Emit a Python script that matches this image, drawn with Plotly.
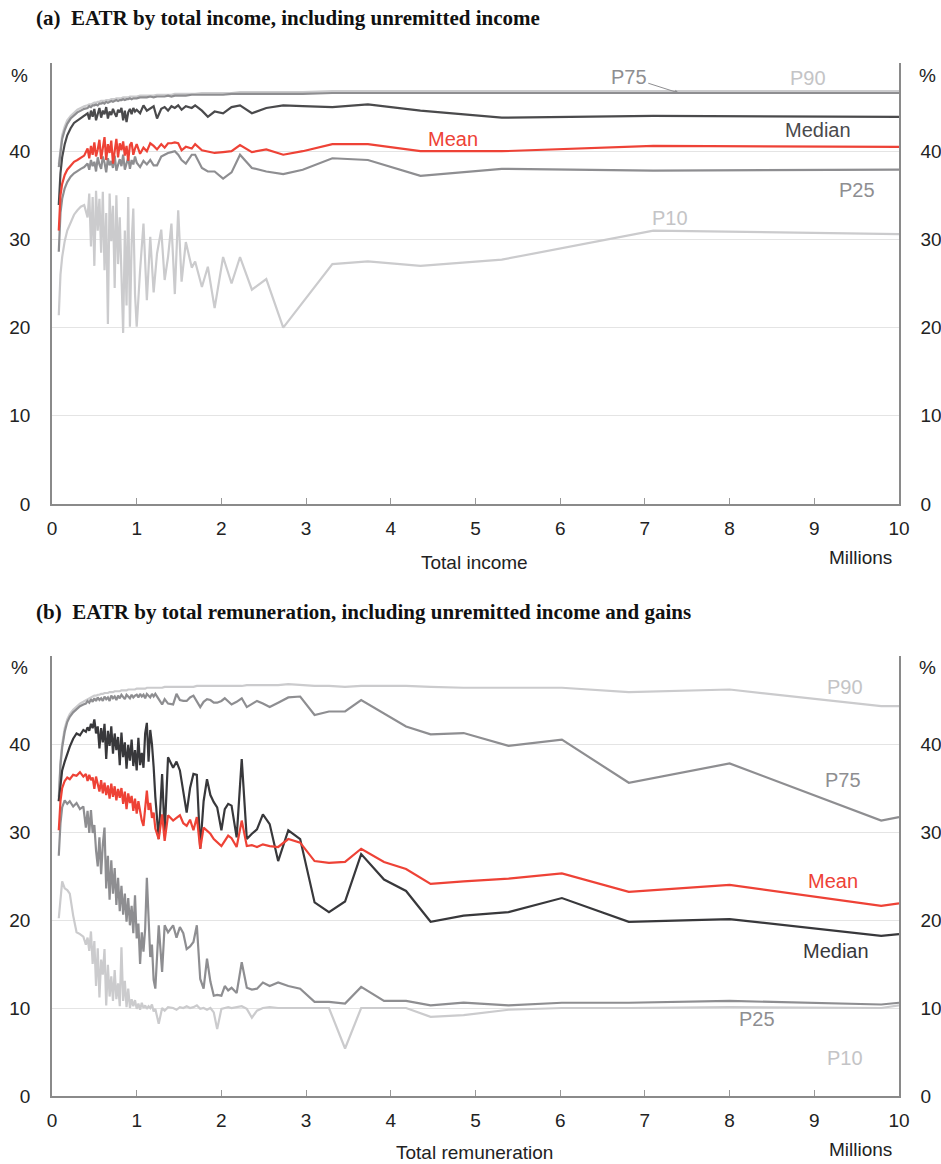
import plotly.graph_objects as go

# ---------------- Panel (a): EATR by total income ----------------
xa = [0.08, 0.10, 0.12, 0.15, 0.18, 0.22, 0.26, 0.30, 0.34, 0.38,
      0.42, 0.44, 0.46, 0.48, 0.50, 0.52, 0.54, 0.56, 0.58, 0.60,
      0.62, 0.64, 0.66, 0.68, 0.70, 0.72, 0.74, 0.76, 0.78, 0.80,
      0.82, 0.84, 0.86, 0.88, 0.90, 0.92, 0.94, 0.96, 0.98, 1.00,
      1.04, 1.08, 1.12, 1.16, 1.20, 1.24, 1.29, 1.33, 1.37, 1.41, 1.45,
      1.49, 1.53, 1.58, 1.65, 1.69, 1.77, 1.84, 1.92, 2.02, 2.12, 2.22,
      2.36, 2.53, 2.73, 2.96, 3.31, 3.73, 4.35, 5.31, 7.10, 10.0]

p90_a = [38.5, 40.5, 41.8, 42.8, 43.5, 44.0, 44.4, 44.7, 44.9, 45.1,
         45.2, 45.3, 45.3, 45.4, 45.5, 45.5, 45.6, 45.6, 45.7, 45.7,
         45.7, 45.8, 45.8, 45.8, 45.9, 45.9, 45.9, 46.0, 46.0, 46.0,
         46.0, 46.1, 46.1, 46.1, 46.1, 46.2, 46.2, 46.2, 46.2, 46.2,
         46.3, 46.3, 46.3, 46.3, 46.3, 46.4, 46.4, 46.4, 46.4, 46.4, 46.5,
         46.5, 46.5, 46.5, 46.5, 46.5, 46.6, 46.6, 46.6, 46.6, 46.6, 46.7,
         46.7, 46.7, 46.7, 46.7, 46.8, 46.8, 46.8, 46.8, 46.8, 46.8]

p75_a = [38.2, 40.1, 41.4, 42.4, 43.1, 43.7, 44.1, 44.4, 44.6, 44.8,
         44.9, 45.1, 45.0, 45.2, 45.2, 45.3, 45.2, 45.4, 45.4, 45.5,
         45.4, 45.6, 45.5, 45.6, 45.7, 45.6, 45.7, 45.8, 45.7, 45.8,
         45.8, 45.9, 45.8, 45.9, 45.9, 46.0, 45.9, 46.0, 46.0, 46.0,
         46.1, 46.1, 46.1, 46.2, 46.1, 46.2, 46.2, 46.2, 46.3, 46.2, 46.3,
         46.3, 46.3, 46.3, 46.4, 46.4, 46.4, 46.4, 46.4, 46.4, 46.5, 46.5,
         46.5, 46.5, 46.5, 46.5, 46.6, 46.6, 46.6, 46.6, 46.6, 46.6]

median_a = [33.9, 37.5, 39.3, 40.8, 41.8, 42.6, 43.2, 43.5, 43.8, 44.0,
            44.3, 43.6, 44.6, 43.9, 44.8, 43.5, 44.4, 44.9, 43.8, 44.6,
            44.2, 45.0, 43.7, 44.5, 44.1, 44.8, 44.3, 43.9, 44.7, 44.4,
            44.9, 43.5, 44.6, 43.3, 44.4, 44.8, 44.2, 44.9, 44.5, 44.7,
            44.3, 45.2, 44.6, 44.9, 45.1, 43.7, 44.8, 45.0, 44.6, 45.1, 44.9,
            45.2, 44.7, 45.1, 44.9, 45.2, 44.6, 43.9, 44.5, 44.3, 45.0, 45.2,
            44.3, 44.9, 45.2, 45.1, 45.0, 45.3, 44.6, 43.8, 44.0, 43.9]

mean_a = [31.0, 35.0, 36.3, 37.3, 37.9, 38.4, 38.8, 39.0, 39.3, 39.5,
          40.3, 39.2, 40.6, 39.6, 41.0, 39.4, 40.2, 41.3, 39.1, 40.5,
          41.6, 39.0, 40.8, 39.8, 41.2, 38.6, 40.4, 41.4, 39.3, 40.9,
          40.1, 41.1, 39.5, 40.6, 38.9, 40.7, 41.0, 39.6, 40.3, 40.8,
          39.7, 40.4, 40.0, 40.9, 40.6, 40.2, 40.8, 40.4, 40.9, 40.9, 41.0,
          40.9, 40.1, 40.5, 40.3, 40.8, 40.1, 40.0, 39.8, 39.9, 40.0, 40.7,
          39.9, 40.2, 39.6, 40.0, 40.8, 40.8, 40.0, 40.0, 40.6, 40.5]

p25_a = [28.6, 33.0, 34.6, 35.8, 36.5, 37.1, 37.5, 37.8, 38.0, 38.2,
         38.6, 37.9, 39.0, 38.3, 38.8, 37.7, 39.3, 38.5, 38.0, 39.4,
         38.7, 37.6, 39.2, 38.4, 38.9, 38.1, 39.5, 37.8, 38.6, 39.1,
         38.3, 39.6, 37.9, 38.8, 39.3, 38.0, 39.0, 38.5, 39.4, 38.7,
         38.2, 38.9, 38.5, 39.0, 38.4, 38.4, 39.4, 39.6, 39.8, 39.9, 40.0,
         39.6, 39.0, 38.6, 39.6, 39.6, 38.1, 37.7, 37.7, 36.9, 37.6, 39.6,
         38.1, 37.7, 37.4, 37.9, 39.2, 39.0, 37.2, 38.0, 37.8, 37.9]

p10_a = [21.4, 26.0, 28.0, 29.8, 31.0, 32.0, 32.8, 33.3, 33.7, 33.9,
         32.5, 35.2, 29.2, 34.8, 27.0, 35.5, 31.0, 34.6, 28.5, 35.4,
         26.5, 33.0, 20.4, 35.2, 29.8, 33.8, 24.5, 35.0, 27.2, 32.5,
         25.0, 19.4, 31.0, 22.5, 34.8, 20.1, 29.5, 33.5, 23.8, 20.1,
         26.5, 31.8, 23.1, 30.3, 24.0, 28.4, 31.1, 25.4, 28.0, 31.8, 23.8,
         33.3, 25.2, 29.7, 26.8, 27.5, 24.6, 26.9, 22.2, 28.0, 25.0, 28.0,
         24.3, 25.5, 20.0, 22.9, 27.2, 27.5, 27.0, 27.7, 31.0, 30.6]

# ---------------- Panel (b): EATR by total remuneration ----------------
xb = [0.08, 0.10, 0.12, 0.15, 0.18, 0.21, 0.25, 0.29, 0.33, 0.37,
      0.40, 0.42, 0.44, 0.46, 0.48, 0.50, 0.52, 0.54, 0.56, 0.58,
      0.60, 0.62, 0.64, 0.66, 0.68, 0.70, 0.72, 0.74, 0.76, 0.78,
      0.80, 0.82, 0.84, 0.86, 0.88, 0.90, 0.92, 0.94, 0.96, 0.98,
      1.00, 1.02, 1.04, 1.06, 1.08, 1.10, 1.12, 1.14, 1.16, 1.18, 1.20, 1.22,
      1.26, 1.30, 1.33, 1.37, 1.43, 1.47, 1.51, 1.55, 1.59, 1.63, 1.67, 1.71,
      1.75, 1.79, 1.83, 1.87, 1.91, 1.95, 2.00, 2.04, 2.08, 2.12, 2.18, 2.24,
      2.30, 2.36, 2.42, 2.49, 2.57, 2.67, 2.79, 2.93,
      3.10, 3.27, 3.46, 3.65, 3.92, 4.18, 4.47, 4.86, 5.39, 6.02, 6.81, 8.00, 9.79, 10.0]

p90_b = [34.0, 38.0, 40.0, 41.8, 42.8, 43.4, 43.9, 44.3, 44.6, 44.8,
         45.0, 45.1, 45.2, 45.3, 45.4, 45.5, 45.5, 45.6, 45.6, 45.7,
         45.7, 45.8, 45.8, 45.8, 45.9, 45.9, 45.9, 46.0, 46.0, 46.0,
         46.0, 46.1, 46.1, 46.1, 46.1, 46.2, 46.2, 46.2, 46.2, 46.2,
         46.3, 46.3, 46.3, 46.3, 46.3, 46.3, 46.4, 46.4, 46.4, 46.4, 46.4, 46.4,
         46.4, 46.4, 46.5, 46.5, 46.5, 46.5, 46.5, 46.5, 46.5, 46.5, 46.5, 46.6,
         46.6, 46.6, 46.6, 46.6, 46.6, 46.6, 46.6, 46.6, 46.6, 46.6, 46.6, 46.6,
         46.7, 46.7, 46.7, 46.7, 46.7, 46.7, 46.8, 46.7,
         46.6, 46.6, 46.5, 46.6, 46.6, 46.6, 46.5, 46.4, 46.4, 46.4, 45.9, 46.2, 44.3, 44.3]

p75_b = [33.5, 37.6, 39.6, 41.4, 42.5, 43.1, 43.6, 44.0, 44.3, 44.5,
         44.6, 44.9, 44.7, 45.1, 44.8, 45.2, 44.9, 45.3, 45.0, 45.2,
         44.9, 45.4, 45.1, 45.3, 44.9, 45.5, 45.2, 45.4, 45.0, 45.5,
         45.2, 45.6, 45.3, 45.1, 45.6, 45.4, 45.2, 45.6, 45.3, 45.5,
         45.6, 45.3, 45.7, 45.4, 45.6, 45.2, 45.7, 45.5, 45.3, 45.7, 45.4, 45.7,
         45.1, 44.5, 45.1, 44.6, 44.5, 45.7, 45.0, 44.9, 44.9, 45.3, 45.5, 44.8,
         44.2, 44.8, 45.1, 45.0, 44.7, 44.7, 44.9, 45.2, 44.9, 44.5, 44.8, 45.2,
         44.2, 44.6, 44.9, 44.6, 44.2, 44.7, 45.3, 45.4,
         43.3, 43.7, 43.7, 45.0, 43.5, 42.0, 41.1, 41.25, 39.8, 40.5, 35.6, 37.8, 31.3, 31.7]

median_b = [33.5, 35.5, 37.0, 38.0, 39.0, 39.7, 40.6, 41.2, 41.0, 41.6,
            41.4, 41.9, 41.5, 42.3, 41.8, 42.8, 41.2, 42.0, 39.5, 41.8,
            40.2, 42.3, 38.3, 41.5, 39.8, 42.0, 38.9, 41.2, 39.3, 40.8,
            37.6, 41.3, 38.5, 40.2, 37.2, 39.9, 38.1, 40.5, 37.5, 39.3,
            37.0, 40.7, 37.6, 39.0, 37.3, 41.2, 42.4, 38.0, 41.6, 40.0, 37.4, 34.0,
            29.2, 36.6, 29.8, 38.5, 37.3, 38.0, 37.0, 34.5, 32.2, 35.0, 36.6, 36.5,
            28.1, 33.5, 36.0, 34.2, 33.4, 32.8, 30.2, 32.6, 33.2, 33.0, 29.4, 38.3,
            29.2, 29.8, 30.3, 32.0, 30.9, 26.7, 30.2, 29.2,
            22.0, 20.9, 22.1, 27.5, 24.6, 23.3, 19.8, 20.5, 20.9, 22.5, 19.8, 20.1, 18.2, 18.4]

mean_b = [30.2, 33.5, 35.0, 35.8, 36.2, 36.0, 36.5, 36.4, 36.8, 36.3,
          36.6, 35.8, 36.5, 35.9, 36.2, 34.9, 36.3, 35.5, 34.6, 35.9,
          34.4, 35.6, 34.2, 35.3, 33.8, 35.5, 34.0, 35.2, 33.6, 34.9,
          33.9, 35.0, 33.2, 34.6, 32.6, 34.4, 33.3, 34.1, 32.4, 33.8,
          32.1, 33.5, 32.2, 31.3, 30.7, 33.0, 34.7, 32.5, 33.3, 31.6, 32.2, 30.4,
          29.2, 32.0, 29.0, 31.9, 31.3, 31.6, 31.9, 31.0, 30.7, 31.4, 30.2, 31.7,
          28.1, 30.5, 30.2, 29.8, 29.2, 28.8, 28.4, 29.0, 29.6, 29.3, 28.3, 31.3,
          28.4, 28.5, 28.3, 28.6, 28.4, 28.3, 29.2, 28.8,
          26.7, 26.5, 26.6, 28.1, 26.6, 25.8, 24.1, 24.4, 24.7, 25.3, 23.2, 24.0, 21.6, 21.9]

p25_b = [27.3, 31.0, 32.8, 33.6, 33.2, 33.5, 32.9, 33.3, 32.6, 32.9,
         30.5, 32.4, 29.9, 32.5, 29.9, 30.8, 27.9, 26.1, 29.4, 25.2,
         28.6, 30.5, 23.6, 27.3, 22.3, 26.8, 23.0, 25.9, 21.7, 24.8,
         21.0, 23.9, 20.6, 23.0, 19.8, 22.5, 19.4, 21.6, 18.5, 22.8,
         17.9, 19.6, 15.0, 18.6, 16.4, 19.0, 24.8, 19.6, 15.8, 17.2, 13.2, 12.2,
         19.4, 14.1, 19.4, 18.6, 19.4, 18.0, 19.2, 18.5, 16.7, 17.0, 17.5, 19.4,
         13.3, 12.2, 15.6, 13.0, 11.4, 11.5, 11.4, 12.5, 12.0, 12.3, 11.7, 15.2,
         12.3, 12.1, 12.2, 12.9, 12.5, 12.9, 12.5, 12.2,
         10.7, 10.7, 10.5, 12.4, 10.8, 10.8, 10.3, 10.6, 10.3, 10.6, 10.6, 10.8, 10.4, 10.6]

p10_b = [20.2, 22.5, 24.4, 23.6, 23.4, 23.0, 20.5, 18.6, 18.4, 18.1,
         17.2, 18.0, 16.5, 18.7, 15.0, 17.6, 12.5, 16.8, 11.2, 15.5,
         13.8, 16.7, 10.3, 14.9, 11.3, 13.6, 10.8, 14.3, 11.0, 12.8,
         10.2, 16.9, 10.8, 13.1, 10.1, 12.2, 10.0, 11.0, 10.2, 10.9,
         9.9, 10.5, 9.8, 10.6, 10.0, 10.3, 9.9, 10.2, 10.0, 10.4, 9.6, 9.9,
         8.2, 10.0, 9.7, 10.1, 10.0, 9.8, 10.1, 10.0, 10.2, 10.0, 10.1, 10.3,
         9.9, 10.0, 9.8, 10.0, 9.5, 7.6, 9.9, 10.0, 10.1, 10.0, 10.1, 10.2,
         9.9, 8.9, 9.7, 10.0, 10.1, 10.0, 10.0, 10.0,
         10.0, 10.0, 5.4, 10.0, 10.0, 10.0, 9.0, 9.2, 9.8, 10.0, 10.0, 10.1, 10.0, 10.3]

y_ticks = [0, 10, 20, 30, 40, 50]
y_ticktext = ["0", "10", "20", "30", "40", ""]
x_ticks = [0, 1, 2, 3, 4, 5, 6, 7, 8, 9, 10]

for arr in (p90_a, p75_a, median_a, mean_a, p25_a, p10_a):
    assert len(arr) == len(xa), len(arr)
for arr in (p90_b, p75_b, median_b, mean_b, p25_b, p10_b):
    assert len(arr) == len(xb), len(arr)

C_LIGHT = "#cbcbcd"
C_MID = "#8e8e91"
C_DARK_A = "#4a4a4c"
C_DARK_B = "#38383b"
C_RED = "#ee4236"

LBLFONT = "Liberation Sans, Arial"
TICKFONT = dict(family=LBLFONT, size=19, color="#222")

fig = go.Figure()

series_a = [("P10", p10_a, C_LIGHT), ("P90", p90_a, C_LIGHT), ("P75", p75_a, C_MID),
            ("P25", p25_a, C_MID), ("Median", median_a, C_DARK_A), ("Mean", mean_a, C_RED)]
series_b = [("P10", p10_b, C_LIGHT), ("P90", p90_b, C_LIGHT), ("P75", p75_b, C_MID),
            ("P25", p25_b, C_MID), ("Median", median_b, C_DARK_B), ("Mean", mean_b, C_RED)]

for name, ys, col in series_a:
    fig.add_trace(go.Scatter(x=xa, y=ys, mode="lines", name=name, showlegend=False,
                             line=dict(color=col, width=2.2), xaxis="x", yaxis="y"))
for name, ys, col in series_b:
    fig.add_trace(go.Scatter(x=xb, y=ys, mode="lines", name=name, showlegend=False,
                             line=dict(color=col, width=2.2), xaxis="x2", yaxis="y2"))
# carriers for the right-hand axes
fig.add_trace(go.Scatter(x=[], y=[], xaxis="x", yaxis="y3", showlegend=False, hoverinfo="skip"))
fig.add_trace(go.Scatter(x=[], y=[], xaxis="x2", yaxis="y4", showlegend=False, hoverinfo="skip"))

dom_a = [0.5731, 1.0]
dom_b = [0.0, 0.4259]

def xax(anchor):
    return dict(range=[0, 10], tickvals=x_ticks, ticks="inside", ticklen=6, tickcolor="#999",
                showline=True, linecolor="#8a8a8a", linewidth=1.5, showgrid=False, zeroline=False,
                tickfont=TICKFONT, anchor=anchor, domain=[0, 1], ticklabelstandoff=6,
                fixedrange=True, automargin=False)

def yax(dom, anchor, side="left", overlaying=None):
    d = dict(range=[0, 50], tickvals=y_ticks, ticktext=y_ticktext, domain=dom, anchor=anchor,
             showline=True, linecolor="#8a8a8a", linewidth=1.5, showgrid=(side == "left"),
             gridcolor="#e4e4e4", gridwidth=1, zeroline=False, ticks="", tickfont=TICKFONT,
             side=side, ticklabelstandoff=16, fixedrange=True, automargin=False)
    if overlaying:
        d["overlaying"] = overlaying
    return d

fig.update_layout(
    width=941, height=1164,
    margin=dict(l=52, r=42, t=63, b=68),
    paper_bgcolor="white", plot_bgcolor="white",
    xaxis=xax("y"), yaxis=yax(dom_a, "x"),
    xaxis2=xax("y2"), yaxis2=yax(dom_b, "x2"),
    yaxis3=yax(dom_a, "x", side="right", overlaying="y"),
    yaxis4=yax(dom_b, "x2", side="right", overlaying="y2"),
)

ann = []
TITLEFONT = dict(family="Liberation Serif, Times New Roman, serif", size=21, color="#111")
ann.append(dict(text="<b>(a)  EATR by total income, including unremitted income</b>", xref="paper", yref="paper",
                x=-0.021, y=1.0436, xanchor="left", yanchor="middle", showarrow=False, font=TITLEFONT))
ann.append(dict(text="<b>(b)  EATR by total remuneration, including unremitted income and gains</b>", xref="paper",
                yref="paper", x=-0.021, y=0.4685, xanchor="left", yanchor="middle", showarrow=False, font=TITLEFONT))

for yp in (0.988, 0.415):
    for xp in (-0.0378, 1.034):
        ann.append(dict(text="%", xref="paper", yref="paper", x=xp, y=yp, showarrow=False,
                        xanchor="center", yanchor="middle", font=TICKFONT))

axfont = dict(family=LBLFONT, size=19, color="#222")
for txt, xr, xv, yv in (("Total income", "x", 4.99, 0.516), ("Millions", "x", 9.54, 0.521),
                        ("Total remuneration", "x2", 4.99, -0.055), ("Millions", "x2", 9.54, -0.052)):
    ann.append(dict(text=txt, xref=xr, yref="paper", x=xv, y=yv, showarrow=False,
                    xanchor="center", yanchor="middle", font=axfont))

def lab(txt, x, y, col, xr, yr):
    return dict(text=txt, xref=xr, yref=yr, x=x, y=y, showarrow=False, xanchor="center", yanchor="middle",
                font=dict(family=LBLFONT, size=20, color=col))

ann += [
    lab("P90", 8.93, 48.3, "#c4c4c6", "x", "y"),
    lab("Median", 9.04, 42.4, C_DARK_A, "x", "y"),
    lab("Mean", 4.73, 41.4, C_RED, "x", "y"),
    lab("P25", 9.50, 35.6, C_MID, "x", "y"),
    lab("P10", 7.30, 32.4, "#c4c4c6", "x", "y"),
    dict(text="P75", xref="x", yref="y", x=7.4, y=46.6, ax=-50, ay=-16, showarrow=True, arrowhead=2,
         arrowsize=0.8, arrowwidth=1, arrowcolor="#8e8e91",
         font=dict(family=LBLFONT, size=20, color=C_MID)),
    lab("P90", 9.36, 46.5, "#c4c4c6", "x2", "y2"),
    lab("P75", 9.34, 35.9, C_MID, "x2", "y2"),
    lab("Mean", 9.22, 24.4, C_RED, "x2", "y2"),
    lab("Median", 9.26, 16.5, C_DARK_B, "x2", "y2"),
    lab("P25", 8.32, 8.75, C_MID, "x2", "y2"),
    lab("P10", 9.36, 4.3, "#c4c4c6", "x2", "y2"),
]
fig.update_layout(annotations=ann)

# remove the default 8px page margin so the 941x1164 figure fills the window exactly
fig.write_html("out.html", config={"displayModeBar": False},
               post_script="document.body.style.margin='0';document.body.style.overflow='hidden';")
